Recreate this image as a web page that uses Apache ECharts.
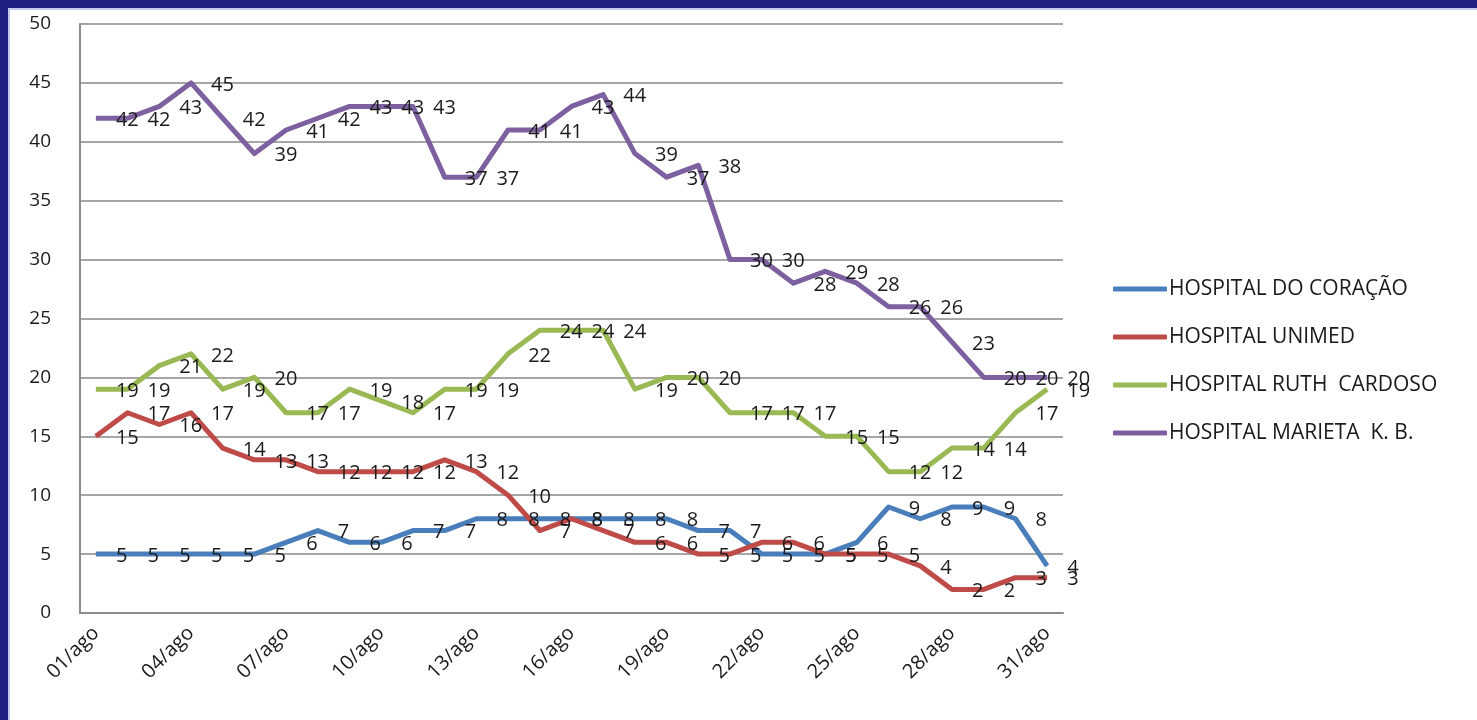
<!DOCTYPE html>
<html>
<head>
<meta charset="utf-8">
<script src="https://cdn.jsdelivr.net/npm/echarts@6/dist/echarts.min.js"></script>
<style>
html,body{margin:0;padding:0;background:#fff;}
#chart{width:1477px;height:720px;}
</style>
</head>
<body>
<div id="chart"></div>
<script>
const categories = ['01/ago','02/ago','03/ago','04/ago','05/ago','06/ago','07/ago','08/ago','09/ago','10/ago','11/ago','12/ago','13/ago','14/ago','15/ago','16/ago','17/ago','18/ago','19/ago','20/ago','21/ago','22/ago','23/ago','24/ago','25/ago','26/ago','27/ago','28/ago','29/ago','30/ago','31/ago'];
const seriesNames = ['HOSPITAL DO CORAÇÃO','HOSPITAL UNIMED','HOSPITAL RUTH  CARDOSO','HOSPITAL MARIETA  K. B.'];
const coracao = [5,5,5,5,5,5,6,7,6,6,7,7,8,8,8,8,8,8,8,7,7,5,5,5,6,9,8,9,9,8,4];
const unimed = [15,17,16,17,14,13,13,12,12,12,12,13,12,10,7,8,7,6,6,5,5,6,6,5,5,5,4,2,2,3,3];
const ruthCardoso = [19,19,21,22,19,20,17,17,19,18,17,19,19,22,24,24,24,19,20,20,17,17,17,15,15,12,12,14,14,17,19];
const marieta = [42,42,43,45,42,39,41,42,43,43,43,37,37,41,41,43,44,39,37,38,30,30,28,29,28,26,26,23,20,20,20];
const yTicks = [0,5,10,15,20,25,30,35,40,45,50];

const colors = ['#4a7ebb','#be4b48','#98b954','#7d60a0'];
const values = [coracao, unimed, ruthCardoso, marieta];
const FONT = 'Open Sans';

const chart = echarts.init(document.getElementById('chart'), null, {renderer:'canvas'});
chart.setOption({
  animation: false,
  backgroundColor: '#ffffff',
  textStyle: {fontFamily: FONT},
  graphic: [
    {type:'rect', shape:{x:0,y:0,width:1477,height:8}, style:{fill:'#1e2180'}, z:100},
    {type:'rect', shape:{x:0,y:0,width:8,height:720}, style:{fill:'#1e2180'}, z:100},
    {type:'rect', shape:{x:8,y:8,width:1469,height:2}, style:{fill:'#c4c8ec'}, z:100},
    {type:'rect', shape:{x:8,y:8,width:2,height:712}, style:{fill:'#c4c8ec'}, z:100}
  ],
  grid: {left: 80, right: 414, top: 24, bottom: 107, containLabel: false},
  legend: {
    orient: 'vertical',
    left: 1108,
    top: 272,
    itemWidth: 54,
    itemHeight: 5,
    itemGap: 24,
    icon: 'roundRect',
    textStyle: {fontFamily: FONT, fontSize: 21, color: '#1a1a1a', lineHeight: 24, padding: [0,0,0,-3]},
    data: seriesNames
  },
  xAxis: {
    type: 'category',
    data: categories,
    boundaryGap: true,
    axisLine: {lineStyle: {color: '#8c8c8c', width: 2}},
    axisTick: {show: false},
    axisLabel: {interval: 2, rotate: 45, fontFamily: FONT, fontSize: 20, color: '#1a1a1a', margin: 17}
  },
  yAxis: {
    type: 'value',
    min: 0, max: 50, interval: 5,
    axisLine: {show: true, lineStyle: {color: '#8c8c8c', width: 2}},
    axisTick: {show: false},
    splitLine: {lineStyle: {color: '#a6a6a6', width: 2}},
    axisLabel: {fontFamily: FONT, fontSize: 19, color: '#1a1a1a', margin: 29, align: 'right',
      formatter: v => yTicks.indexOf(v) >= 0 ? String(v) : ''}
  },
  series: seriesNames.map((name, i) => ({
    name: name,
    type: 'line',
    data: values[i],
    symbol: 'circle',
    symbolSize: 0.1,
    showSymbol: true,
    color: colors[i],
    itemStyle: {color: colors[i]},
    lineStyle: {color: colors[i], width: 5, join: 'round'},
    label: {show: true, position: 'right', distance: 20, offset: [0, 2], fontFamily: FONT, fontSize: 20, color: '#1a1a1a'},
    emphasis: {disabled: true}
  }))
});
</script>
</body>
</html>
